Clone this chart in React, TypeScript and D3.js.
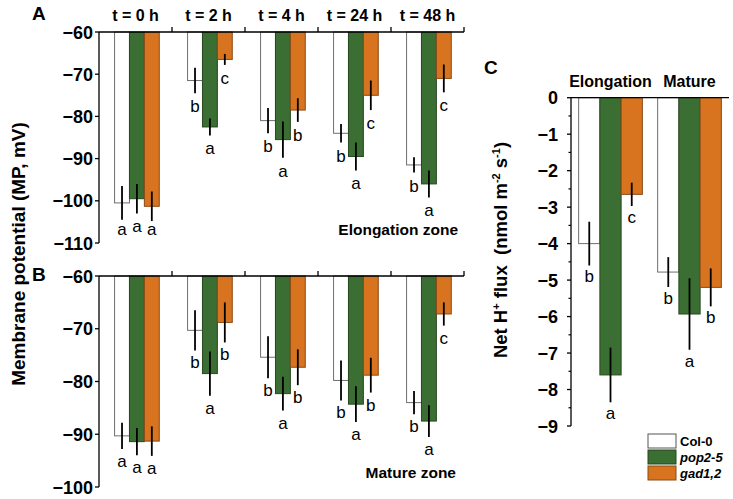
import React from "react";
import * as d3 from "d3";

const times = ["t = 0 h", "t = 2 h", "t = 4 h", "t = 24 h", "t = 48 h"];
const genotypes = ["Col-0", "pop2-5", "gad1,2"];

// Panel A: elongation zone membrane potential (mV)
const elongCol = [-100.5, -71.5, -81, -84, -91.5];
const elongPop = [-99.5, -82.5, -85.5, -89.5, -96];
const elongGad = [-101.3, -66.5, -78.5, -75, -71];
const elongColErr = [4, 3, 3, 2.2, 1.8];
const elongPopErr = [3.5, 2, 4.3, 3.3, 3.2];
const elongGadErr = [3.5, 1.3, 2.8, 3.5, 3.3];
const elongColLet = ["a", "b", "b", "b", "b"];
const elongPopLet = ["a", "a", "a", "a", "a"];
const elongGadLet = ["a", "c", "b", "c", "c"];

// Panel B: mature zone membrane potential (mV)
const matCol = [-90.3, -70.3, -75.4, -79.8, -84];
const matPop = [-91.4, -78.5, -82.3, -84.3, -87.5];
const matGad = [-91.3, -68.8, -77.3, -78.8, -67.2];
const matColErr = [2.5, 3.8, 4, 3.8, 2.2];
const matPopErr = [2.6, 4.2, 3.2, 3.4, 3];
const matGadErr = [2.8, 3.8, 3.4, 3.3, 2.2];
const matColLet = ["a", "b", "b", "b", "b"];
const matPopLet = ["a", "a", "a", "a", "a"];
const matGadLet = ["a", "b", "b", "b", "c"];

// Panel C: net H+ flux
const zones = ["Elongation", "Mature"];
const fluxCol = [-4.0, -4.78];
const fluxPop = [-7.6, -5.93];
const fluxGad = [-2.65, -5.2];
const fluxColErr = [0.6, 0.41];
const fluxPopErr = [0.75, 0.98];
const fluxGadErr = [0.32, 0.52];
const fluxColLet = ["b", "b"];
const fluxPopLet = ["a", "a"];
const fluxGadLet = ["c", "b"];

const mvTicksA = [-60, -70, -80, -90, -100, -110];
const mvTicksB = [-60, -70, -80, -90, -100];
const fluxTicks = [0, -1, -2, -3, -4, -5, -6, -7, -8, -9];

const FILL = ["#ffffff", "#3b6e33", "#d8741f"];
const STROKE = ["#6f6f6f", "#27481f", "#8a4a15"];
const FONT = "'Liberation Sans', Arial, sans-serif";
const fmt = d3.format("d");

type Group = { vals: number[]; errs: number[]; lets: string[] };

function BarPanel(props: {
  cats: string[];
  groups: Group[];
  x0: d3.ScaleBand<string>;
  x1: d3.ScaleBand<string>;
  y: d3.ScaleLinear<number, number>;
  ticks: number[];
  minor?: number[];
  labelX: number;
  catTicks: boolean;
  letterCap: number;
  letterOffset: number;
}) {
  const { cats, groups, x0, x1, y, ticks, minor, labelX, catTicks, letterCap, letterOffset } = props;
  const [xl, xr] = x0.range();
  const [yb, yt] = y.range();
  return (
    <g>
      {cats.map((c, ci) =>
        groups.map((g, gi) => {
          const bx = (x0(c) as number) + (x1(genotypes[gi]) as number);
          const bw = x1.bandwidth();
          const v = g.vals[ci];
          const e = g.errs[ci];
          const cx = bx + bw / 2;
          const errBottom = y(v - e);
          const ly = Math.min(errBottom + letterOffset, letterCap);
          return (
            <g key={c + gi}>
              <rect x={bx} y={yt} width={bw} height={y(v) - yt}
                fill={FILL[gi]} stroke={STROKE[gi]} strokeWidth={1} />
              <line x1={cx} x2={cx} y1={y(v + e)} y2={errBottom} stroke="#000" strokeWidth={1.8} />
              <text x={cx} y={ly} textAnchor="middle" fontFamily={FONT} fontSize={17} fill="#000">{g.lets[ci]}</text>
            </g>
          );
        })
      )}
      <line x1={xl} x2={xr} y1={yt} y2={yt} stroke="#000" strokeWidth={1.3} />
      <line x1={xl} x2={xl} y1={yt} y2={yb} stroke="#000" strokeWidth={1.3} />
      {catTicks && cats.map((c) => {
        const xx = (x0(c) as number) + x0.bandwidth();
        return <line key={"ct" + c} x1={xx} x2={xx} y1={yt - 5} y2={yt} stroke="#000" strokeWidth={1.3} />;
      })}
      {ticks.map((t) => (
        <g key={"t" + t}>
          <line x1={xl - 4} x2={xl} y1={y(t)} y2={y(t)} stroke="#000" strokeWidth={1.3} />
          <text x={labelX} y={y(t) + 6.5} textAnchor="end" fontFamily={FONT} fontWeight="bold" fontSize={18} fill="#000">{fmt(t)}</text>
        </g>
      ))}
      {minor && minor.map((t) => (
        <line key={"m" + t} x1={xl - 2.5} x2={xl} y1={y(t)} y2={y(t)} stroke="#000" strokeWidth={1.2} />
      ))}
    </g>
  );
}

export default function App() {
  const x0 = d3.scaleBand<string>().domain(times).range([99, 464]).paddingInner(0).paddingOuter(0);
  const x1 = d3.scaleBand<string>().domain(genotypes).range([0, x0.bandwidth()]).paddingInner(0).paddingOuter(0.95).align(0.55);
  const yA = d3.scaleLinear().domain([-110, -60]).range([243, 32]);
  const yB = d3.scaleLinear().domain([-100, -60]).range([487, 276]);

  const xc0 = d3.scaleBand<string>().domain(zones).range([571, 729]).paddingInner(0).paddingOuter(0);
  const xc1 = d3.scaleBand<string>().domain(genotypes).range([0, xc0.bandwidth()]).paddingInner(0).paddingOuter(0.36);
  const yC = d3.scaleLinear().domain([-9, 0]).range([426, 97.7]);
  const minorC = d3.range(0, 9).map((i) => -i - 0.5);

  const groupsA: Group[] = [
    { vals: elongCol, errs: elongColErr, lets: elongColLet },
    { vals: elongPop, errs: elongPopErr, lets: elongPopLet },
    { vals: elongGad, errs: elongGadErr, lets: elongGadLet },
  ];
  const groupsB: Group[] = [
    { vals: matCol, errs: matColErr, lets: matColLet },
    { vals: matPop, errs: matPopErr, lets: matPopLet },
    { vals: matGad, errs: matGadErr, lets: matGadLet },
  ];
  const groupsC: Group[] = [
    { vals: fluxCol, errs: fluxColErr, lets: fluxColLet },
    { vals: fluxPop, errs: fluxPopErr, lets: fluxPopLet },
    { vals: fluxGad, errs: fluxGadErr, lets: fluxGadLet },
  ];

  return (
    <svg width={733} height={499} style={{ position: "absolute", left: 0, top: 0, background: "#fff" }}>
      <rect width={733} height={499} fill="#fff" />
      {/* Panel letters */}
      <text x={32} y={20} fontFamily={FONT} fontWeight="bold" fontSize={19}>A</text>
      <text x={32} y={281} fontFamily={FONT} fontWeight="bold" fontSize={19}>B</text>
      <text x={484} y={74} fontFamily={FONT} fontWeight="bold" fontSize={19}>C</text>

      {/* time labels */}
      {times.map((t) => (
        <text key={t} x={(x0(t) as number) + x0.bandwidth() / 2} y={21} textAnchor="middle"
          fontFamily={FONT} fontWeight="bold" fontSize={16}>{t}</text>
      ))}

      <BarPanel cats={times} groups={groupsA} x0={x0} x1={x1} y={yA} ticks={mvTicksA}
        labelX={93} catTicks={true} letterCap={235} letterOffset={19} />
      <BarPanel cats={times} groups={groupsB} x0={x0} x1={x1} y={yB} ticks={mvTicksB}
        labelX={93} catTicks={true} letterCap={479} letterOffset={18} />

      <text x={458} y={235} textAnchor="end" fontFamily={FONT} fontWeight="bold" fontSize={15.5}>Elongation zone</text>
      <text x={456} y={478} textAnchor="end" fontFamily={FONT} fontWeight="bold" fontSize={15.5}>Mature zone</text>

      <text transform="translate(25,254) rotate(-90)" textAnchor="middle" fontFamily={FONT} fontWeight="bold" fontSize={19}>
        Membrane potential (MP, mV)
      </text>

      {/* Panel C */}
      {zones.map((z) => (
        <text key={z} x={(xc0(z) as number) + xc0.bandwidth() / 2} y={87} textAnchor="middle"
          fontFamily={FONT} fontWeight="bold" fontSize={16}>{z}</text>
      ))}
      <BarPanel cats={zones} groups={groupsC} x0={xc0} x1={xc1} y={yC} ticks={fluxTicks} minor={minorC}
        labelX={558} catTicks={false} letterCap={999} letterOffset={17} />

      <text transform="translate(507,250) rotate(-90)" textAnchor="middle" fontFamily={FONT} fontWeight="bold" fontSize={18.5} xmlSpace="preserve">
        Net H<tspan fontSize={11} dy={-7}>+</tspan><tspan dy={7}> flux  (nmol m</tspan><tspan fontSize={11} dy={-7}>-2</tspan><tspan dy={7}> s</tspan><tspan fontSize={11} dy={-7}>-1</tspan><tspan dy={7}>)</tspan>
      </text>

      {/* Legend */}
      {genotypes.map((g, i) => (
        <g key={g}>
          <rect x={648} y={434 + i * 16} width={28} height={14} fill={FILL[i]} stroke={i === 0 ? "#555" : STROKE[i]} strokeWidth={1} />
          <text x={680} y={446 + i * 16} fontFamily={FONT} fontWeight="bold" fontSize={13}
            fontStyle={i === 0 ? "normal" : "italic"}>{g}</text>
        </g>
      ))}
    </svg>
  );
}
